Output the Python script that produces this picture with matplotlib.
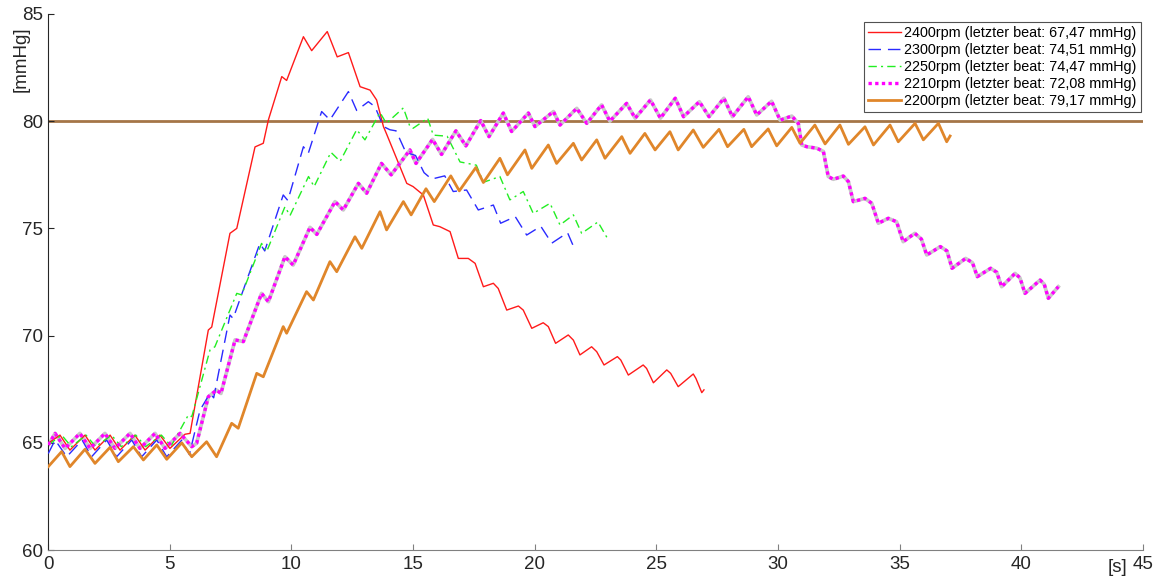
import matplotlib
matplotlib.use("Agg")
import matplotlib.pyplot as plt

plt.rcParams['font.family'] = ['Liberation Sans', 'DejaVu Sans']

# 2400 rpm
x_2400 = [0, 0.48, 0.89, 1.51, 1.92, 2.54, 2.95, 3.56, 3.98, 4.59, 5.0, 5.62, 5.83,
          6.58, 6.72, 7.47, 7.75, 8.5, 8.84, 9.05, 9.6, 9.8, 10.49, 10.83, 11.47, 11.88,
          12.34, 12.82, 13.23, 13.5, 13.78, 13.9, 14.74, 15.0, 15.42, 15.83, 16.1, 16.52,
          16.86, 17.27, 17.55, 17.89, 18.3, 18.5, 18.85, 19.33, 19.53, 19.88, 20.35, 20.56,
          20.86, 21.38, 21.59, 21.86, 22.34, 22.55, 22.85, 23.4, 23.54, 23.85, 24.46, 24.6,
          24.88, 25.43, 25.59, 25.9, 26.52, 26.63, 26.87, 26.96]
y_2400 = [64.98, 65.36, 64.66, 65.36, 64.66, 65.36, 64.66, 65.36, 64.66, 65.36, 64.74, 65.4, 65.44,
          70.26, 70.4, 74.77, 75.0, 78.8, 78.97, 80.06, 82.08, 81.9, 83.94, 83.29, 84.18, 83.0,
          83.2, 81.61, 81.45, 80.99, 79.75, 79.43, 77.1, 76.95, 76.56, 75.16, 75.08, 74.85,
          73.6, 73.6, 73.37, 72.28, 72.44, 72.2, 71.19, 71.38, 71.19, 70.34, 70.6, 70.42,
          69.64, 70.03, 69.79, 69.1, 69.48, 69.25, 68.63, 69.02, 68.86, 68.16, 68.63, 68.47,
          67.8, 68.4, 68.24, 67.62, 68.21, 68.0, 67.34, 67.47]

# 2300 rpm
x_2300 = [0, 0.28, 0.76, 1.39, 1.78, 2.4, 2.81, 3.43, 3.84, 4.46, 4.87, 5.49, 5.8,
          6.24, 6.65, 6.8, 7.47, 7.6, 8.7, 8.9, 9.66, 9.85, 10.49, 10.69, 11.24, 11.58,
          12.34, 12.68, 13.16, 13.43, 13.78, 14.05, 14.3, 14.7, 15.1, 15.45, 15.76, 16.3,
          16.65, 17.2, 17.68, 18.3, 18.6, 19.2, 19.67, 20.25, 20.7, 21.35, 21.66]
y_2300 = [64.5, 65.13, 64.35, 65.13, 64.35, 65.13, 64.35, 65.13, 64.35, 65.13, 64.35, 65.13, 64.45,
          66.53, 67.31, 67.1, 70.96, 70.8, 74.3, 73.95, 76.56, 76.3, 78.81, 78.5, 80.45, 80.06,
          81.38, 80.5, 80.91, 80.68, 79.75, 79.6, 79.55, 78.55, 78.4, 77.6, 77.3, 77.45,
          76.72, 76.79, 75.86, 76.09, 75.24, 75.55, 74.69, 75.1, 74.31, 74.8, 73.99]

# 2250 rpm
x_2250 = [0, 0.55, 0.95, 1.55, 1.95, 2.6, 3.0, 3.6, 4.0, 4.65, 5.05, 5.42, 5.76, 5.9,
          6.65, 6.85, 7.75, 7.95, 8.77, 8.98, 9.73, 9.94, 10.7, 10.93, 11.62, 12.0,
          12.68, 13.02, 13.64, 13.9, 14.6, 14.87, 15.0, 15.6, 15.83, 16.4, 16.93, 17.6,
          17.89, 18.57, 18.98, 19.53, 19.94, 20.63, 21.04, 21.59, 21.93, 22.6, 23.03]
y_2250 = [64.9, 65.36, 64.82, 65.36, 64.82, 65.36, 64.82, 65.36, 64.82, 65.36, 64.85, 65.6, 66.3, 66.22,
          69.33, 69.48, 71.97, 71.9, 74.3, 73.92, 76.01, 75.6, 77.42, 76.95, 78.55, 78.13,
          79.6, 79.13, 80.4, 79.9, 80.62, 79.75, 79.67, 80.14, 79.35, 79.3, 78.1, 77.95,
          77.15, 77.42, 76.33, 76.72, 75.7, 76.17, 75.16, 75.63, 74.77, 75.3, 74.46]

# 2210 rpm
x_2210 = [0, 0.28, 0.69, 1.3, 1.72, 2.33, 2.74, 3.36, 3.77, 4.39, 4.8, 5.42, 5.9, 6.1,
          6.58, 6.92, 7.1, 7.68, 8.02, 8.77, 9.05, 9.73, 10.07, 10.76, 11.04, 11.79, 12.13,
          12.75, 13.09, 13.7, 14.1, 14.87, 15.12, 15.8, 16.17, 16.76, 17.17, 17.78, 18.12,
          18.71, 19.05, 19.74, 20.01, 20.77, 21.04, 21.73, 22.14, 22.75, 23.09, 23.78, 24.13,
          24.76, 25.17, 25.78, 26.12, 26.77, 27.17, 27.78, 28.13, 28.78, 29.13, 29.74, 30.09,
          30.57, 30.84, 30.98, 31.19, 31.6, 31.87, 32.07, 32.28, 32.69, 32.9, 33.1, 33.58,
          33.86, 34.13, 34.54, 34.88, 35.15, 35.63, 35.9, 36.12, 36.68, 36.95, 37.16, 37.72,
          38.0, 38.2, 38.75, 39.0, 39.2, 39.75, 39.95, 40.16, 40.78, 40.95, 41.12, 41.53]
y_2210 = [64.9, 65.44, 64.74, 65.44, 64.74, 65.44, 64.74, 65.44, 64.74, 65.44, 64.74, 65.44, 64.82, 64.98,
          67.15, 67.46, 67.3, 69.8, 69.72, 71.97, 71.58, 73.68, 73.29, 75.05, 74.72, 76.25, 75.86,
          77.1, 76.64, 78.03, 77.5, 78.66, 78.03, 79.15, 78.45, 79.55, 78.85, 80.03, 79.28,
          80.38, 79.52, 80.38, 79.75, 80.45, 79.82, 80.6, 79.9, 80.76, 80.0, 80.83, 80.14,
          80.99, 80.14, 81.07, 80.21, 80.91, 80.21, 81.07, 80.21, 81.14, 80.29, 80.93, 80.05,
          80.24, 79.9, 78.89, 78.81, 78.74, 78.59, 77.42, 77.29, 77.44, 77.18, 76.25, 76.4,
          76.17, 75.24, 75.47, 75.31, 74.38, 74.77, 74.5, 73.76, 74.15, 73.95, 73.14, 73.6,
          73.4, 72.75, 73.14, 72.95, 72.28, 72.9, 72.7, 71.97, 72.59, 72.4, 71.74, 72.28]

# 2200 rpm
x_2200 = [0, 0.55, 0.89, 1.51, 1.92, 2.54, 2.88, 3.5, 3.91, 4.46, 4.87, 5.49, 5.9, 6.51, 6.92,
          7.54, 7.81, 8.57, 8.84, 9.66, 9.8, 10.62, 10.9, 11.58, 11.86, 12.61, 12.89, 13.64,
          13.91, 14.6, 14.92, 15.53, 15.87, 16.55, 16.9, 17.58, 17.89, 18.57, 18.88, 19.6,
          19.88, 20.56, 20.9, 21.59, 21.93, 22.55, 22.89, 23.58, 23.92, 24.53, 24.95, 25.56,
          25.9, 26.52, 26.93, 27.58, 27.93, 28.6, 28.92, 29.6, 29.95, 30.57, 30.91, 31.52,
          31.94, 32.55, 32.9, 33.58, 33.93, 34.61, 34.95, 35.64, 35.98, 36.6, 36.94, 37.08]
y_2200 = [63.89, 64.59, 63.89, 64.7, 64.04, 64.79, 64.12, 64.82, 64.2, 64.9, 64.23, 65.0, 64.35, 65.05, 64.35,
          65.91, 65.68, 68.24, 68.08, 70.42, 70.11, 72.05, 71.66, 73.45, 72.98, 74.61, 74.07, 75.78,
          74.93, 76.25, 75.63, 76.85, 76.25, 77.45, 76.75, 77.84, 77.14, 78.27, 77.5, 78.66,
          77.8, 78.89, 78.03, 78.97, 78.19, 79.13, 78.27, 79.28, 78.5, 79.43, 78.66, 79.51,
          78.66, 79.59, 78.78, 79.62, 78.81, 79.62, 78.81, 79.64, 78.85, 79.71, 78.97, 79.82,
          78.94, 79.82, 78.92, 79.74, 78.89, 79.82, 79.04, 79.9, 79.13, 79.9, 79.04, 79.31]

target = 80
labels = ["2400rpm (letzter beat: 67,47 mmHg)",
          "2300rpm (letzter beat: 74,51 mmHg)",
          "2250rpm (letzter beat: 74,47 mmHg)",
          "2210rpm (letzter beat: 72,08 mmHg)",
          "2200rpm (letzter beat: 79,17 mmHg)"]
x_ticks = [0, 5, 10, 15, 20, 25, 30, 35, 40, 45]
y_ticks = [60, 65, 70, 75, 80, 85]

fig = plt.figure(figsize=(11.58, 5.78), dpi=100)
ax = fig.add_axes([0.0417, 0.0484, 0.9451, 0.9274])

ax.axhline(target, color='#a57547', lw=2.0, zorder=1)
ax.plot(x_2400, y_2400, color='#ff1a1a', lw=1.0, label=labels[0], zorder=3)
ax.plot(x_2300, y_2300, color='#2a2aff', lw=1.0, ls=(0, (9, 5)), label=labels[1], zorder=3)
ax.plot(x_2250, y_2250, color='#22ee22', lw=1.0, ls=(0, (6, 3, 1.5, 3)), label=labels[2], zorder=3)
ax.plot(x_2210, y_2210, color='#c8c8c8', lw=2.6, zorder=2)
ax.plot(x_2210, y_2210, color='#ff00ff', lw=2.4, ls=(0, (1, 1)), label=labels[3], zorder=3)
ax.plot(x_2200, y_2200, color='#e0862a', lw=2.0, label=labels[4], zorder=3)

ax.set_xlim(0, 45)
ax.set_ylim(60, 85)
ax.set_xticks(x_ticks)
ax.set_yticks(y_ticks)
ax.tick_params(direction='in', length=4, width=0.8, labelsize=13.5,
               colors='#262626', pad=4)
ax.tick_params(axis='x', colors='#808080', labelcolor='#262626')
for side in ('top', 'right'):
    ax.spines[side].set_visible(False)
ax.spines['left'].set_color('#262626')
ax.spines['bottom'].set_color('#808080')
ax.spines['left'].set_linewidth(0.8)
ax.spines['bottom'].set_linewidth(0.8)

ax.text(43.95, 59.6, "[s]", ha='center', va='top', fontsize=13.5, color='#262626')
ax.text(-1.1, 82.9, "[mmHg]", ha='center', va='center', rotation=90,
        fontsize=13.5, color='#262626')

leg = ax.legend(loc='upper right', bbox_to_anchor=(0.9985, 0.985), fontsize=10.4,
                frameon=True, fancybox=False, handlelength=2.3, handletextpad=0.2,
                borderpad=0.3, labelspacing=0.2, borderaxespad=0)
leg.get_frame().set_edgecolor('#262626')
leg.get_frame().set_linewidth(0.8)

fig.savefig("out.png", dpi=100)
